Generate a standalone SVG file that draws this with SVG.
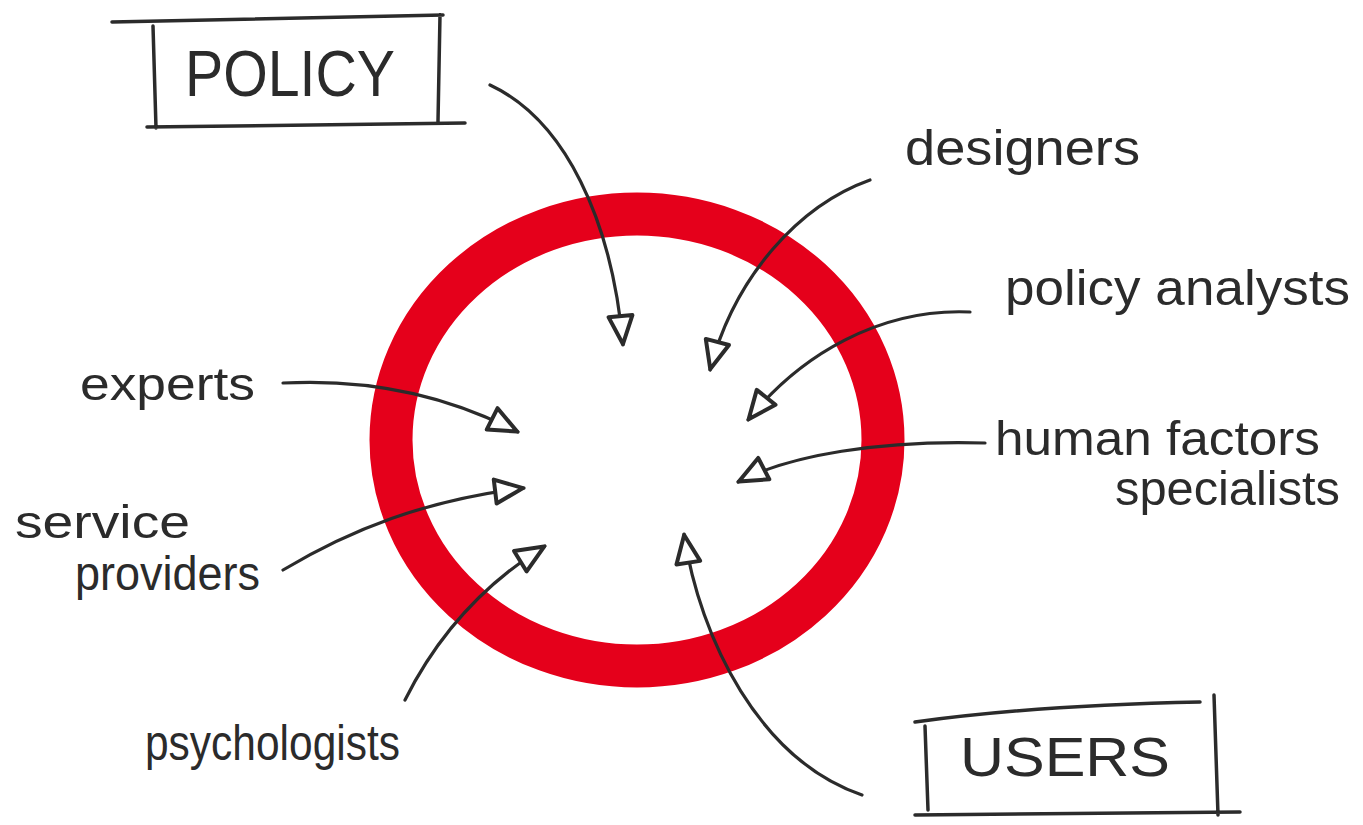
<svg xmlns="http://www.w3.org/2000/svg" width="1363" height="825" viewBox="0 0 1363 825">
<defs>
<style>
.lbl{font-family:"Liberation Sans",Arial,sans-serif;fill:#2b2b2b}
.box{fill:none;stroke:#2b2b2b;stroke-width:3.5;stroke-linecap:round}
.arr{fill:none;stroke:#2b2b2b;stroke-width:3.2;stroke-linecap:round;marker-end:url(#head)}
</style>
<marker id="head" viewBox="0 0 34 30" refX="32" refY="15" markerWidth="34" markerHeight="30" markerUnits="userSpaceOnUse" orient="auto">
<path d="M3,3 L31,15 L3,27 Z" fill="#fff" stroke="#2b2b2b" stroke-width="4" stroke-linejoin="round"/>
</marker>
</defs>
<rect width="1363" height="825" fill="#fff"/>
<g id="ring">
<ellipse cx="637" cy="440" rx="246" ry="226" fill="none" stroke="#e5001b" stroke-width="43"/>
</g>
<g id="policy">
<path class="box" d="M112,22 L443,15 M153,26 L156,128 M440,15 L438,121 M147,127 L465,123"/>
<text class="lbl" x="185" y="96" font-size="64" textLength="210" lengthAdjust="spacingAndGlyphs">POLICY</text>
</g>
<g id="users">
<path class="box" d="M915,722 Q1040,705 1200,702 M925,726 L928,810 M1214,695 L1218,815 M915,815 L1240,812"/>
<text class="lbl" x="960" y="776" font-size="56" textLength="210" lengthAdjust="spacingAndGlyphs">USERS</text>
</g>
<g id="designers"><text class="lbl" x="905" y="165" font-size="50" textLength="235" lengthAdjust="spacingAndGlyphs">designers</text></g>
<g id="policy-analysts"><text class="lbl" x="1005" y="305" font-size="50" textLength="345" lengthAdjust="spacingAndGlyphs">policy analysts</text></g>
<g id="human-factors"><text class="lbl" x="995" y="455" font-size="48" textLength="325" lengthAdjust="spacingAndGlyphs">human factors</text>
<text class="lbl" x="1115" y="505" font-size="48" textLength="225" lengthAdjust="spacingAndGlyphs">specialists</text></g>
<g id="experts"><text class="lbl" x="80" y="400" font-size="46" textLength="175" lengthAdjust="spacingAndGlyphs">experts</text></g>
<g id="service-providers"><text class="lbl" x="15" y="538" font-size="46" textLength="175" lengthAdjust="spacingAndGlyphs">service</text>
<text class="lbl" x="75" y="590" font-size="48" textLength="185" lengthAdjust="spacingAndGlyphs">providers</text></g>
<g id="psychologists"><text class="lbl" x="145" y="760" font-size="50" textLength="255" lengthAdjust="spacingAndGlyphs">psychologists</text></g>
<g id="connectors">
<path class="arr" d="M490,85 C565,120 612,220 623,345"/>
<path class="arr" d="M870,180 C800,205 735,275 710,370"/>
<path class="arr" d="M970,312 C880,308 800,355 748,420"/>
<path class="arr" d="M985,443 C880,440 790,455 738,482"/>
<path class="arr" d="M283,383 C380,378 455,400 518,432"/>
<path class="arr" d="M283,570 C350,530 425,500 524,488"/>
<path class="arr" d="M405,700 C440,630 490,580 545,546"/>
<path class="arr" d="M862,795 C760,760 700,640 684,534"/>
</g>
</svg>
